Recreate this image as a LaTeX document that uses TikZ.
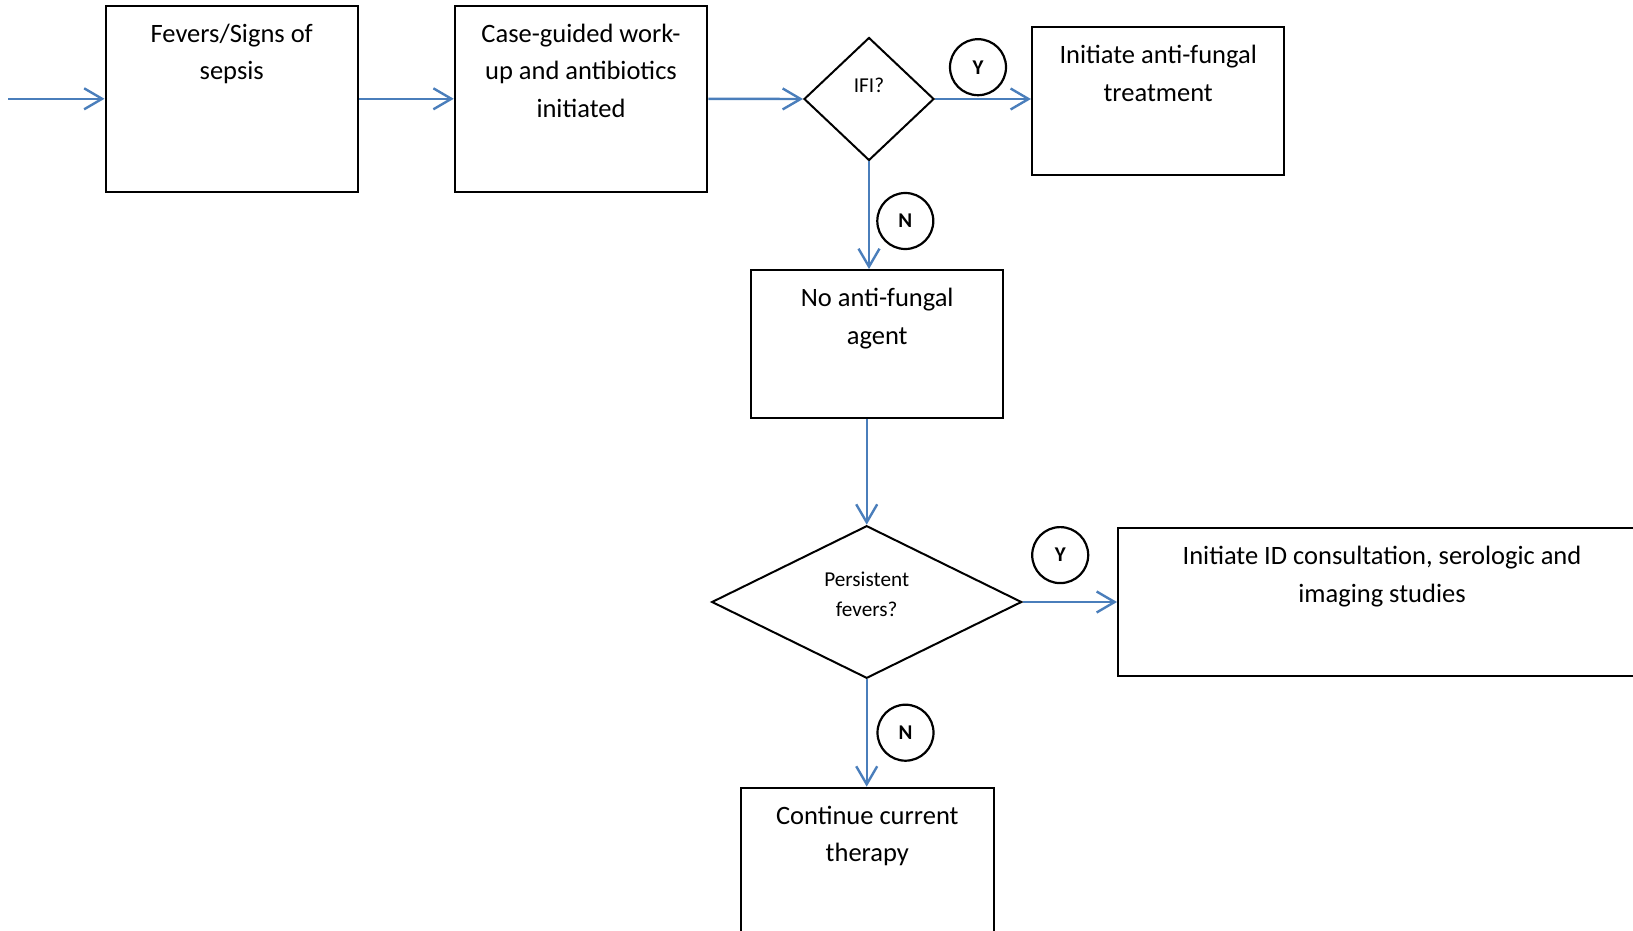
\documentclass[tikz,border=0pt]{standalone}
\usepackage{fontspec}
\setmainfont{Carlito}
\usetikzlibrary{arrows.meta,shapes.geometric}
\definecolor{arrowblue}{HTML}{4A7EBB}
\newcommand{\boxlines}[1]{\begin{tabular}[t]{@{}c@{}}#1\end{tabular}}
\begin{document}
\begin{tikzpicture}[x=1pt,y=1pt,
  box/.style={draw=black, line width=2pt, rectangle, inner sep=0pt, minimum width=252.5pt},
  dec/.style={draw=black, line width=2pt, diamond, inner sep=0pt},
  tag/.style={draw=black, line width=2.2pt, circle, inner sep=0pt, minimum size=56pt, font=\fontsize{21}{24}\selectfont\bfseries},
  boxtxt/.style={inner sep=0pt, anchor=base, yshift=-37.5pt, font=\fontsize{26.5}{37.5}\selectfont},
  dectxt/.style={inner sep=0pt, anchor=base, font=\fontsize{21.2}{30}\selectfont},
  flow/.style={draw=arrowblue, line width=2.4pt, -{Straight Barb[length=18pt,width=21pt]}}
]
\useasboundingbox (0,0) rectangle (1633,-931);

% boxes
\node[box, minimum height=185.6pt] (b1) at (231.75,-98.8) {};
\node[box, minimum height=185.6pt] (b2) at (581,-98.8) {};
\node[box, minimum height=148pt] (b3) at (1158.2,-101.3) {};
\node[box, minimum height=147.7pt] (b4) at (877.2,-343.9) {};
\node[box, minimum height=147.2pt, minimum width=528pt] (b5) at (1382,-602) {};
\node[box, minimum height=147.7pt] (b6) at (867.3,-861.5) {};

% decisions
\node[dec, minimum width=130pt, minimum height=123pt] (d1) at (869,-99) {};
\node[dec, minimum width=310pt, minimum height=152.6pt] (d2) at (866.7,-602) {};

% texts
\node[boxtxt] (t1) at (b1.north) {\boxlines{Fevers/Signs of\\sepsis}};
\node[boxtxt] (t2) at (b2.north) {\boxlines{Case-guided work-\\up and antibiotics\\initiated}};
\node[boxtxt] (t3) at (b3.north) {\boxlines{Initiate anti-fungal\\treatment}};
\node[boxtxt] (t4) at (b4.north) {\boxlines{No anti-fungal\\agent}};
\node[boxtxt] (t5) at (b5.north) {\boxlines{Initiate ID consultation, serologic and\\imaging studies}};
\node[boxtxt] (t6) at (b6.north) {\boxlines{Continue current\\therapy}};
\node[dectxt, yshift=6.5pt] (td1) at (d1.center) {IFI?};
\node[dectxt, yshift=16pt] (td2) at (d2.center) {\boxlines{Persistent\\fevers?}};

% circles
\node[tag] (y1) at (978,-67.2) {Y};
\node[tag] (n1) at (905.3,-221) {N};
\node[tag] (y2) at (1060.2,-555.1) {Y};
\node[tag] (n2) at (905.5,-732.7) {N};

% connectors
\coordinate (start) at (8,-98.8);
\draw[flow] (start) -- (start -| b1.west);
\draw[flow] (b1.east) -- (b2.west);
\draw[flow] (b2.east) -- (d1.west);
\draw[flow] (d1.east) -- (d1.east -| b3.west);
\draw[flow] (d1.south) -- (d1.south |- b4.north);
\draw[flow] (b4.south -| d2.north) -- (d2.north);
\draw[flow] (d2.east) -- (d2.east -| b5.west);
\draw[flow] (d2.south) -- (d2.south |- b6.north);
\end{tikzpicture}
\end{document}
